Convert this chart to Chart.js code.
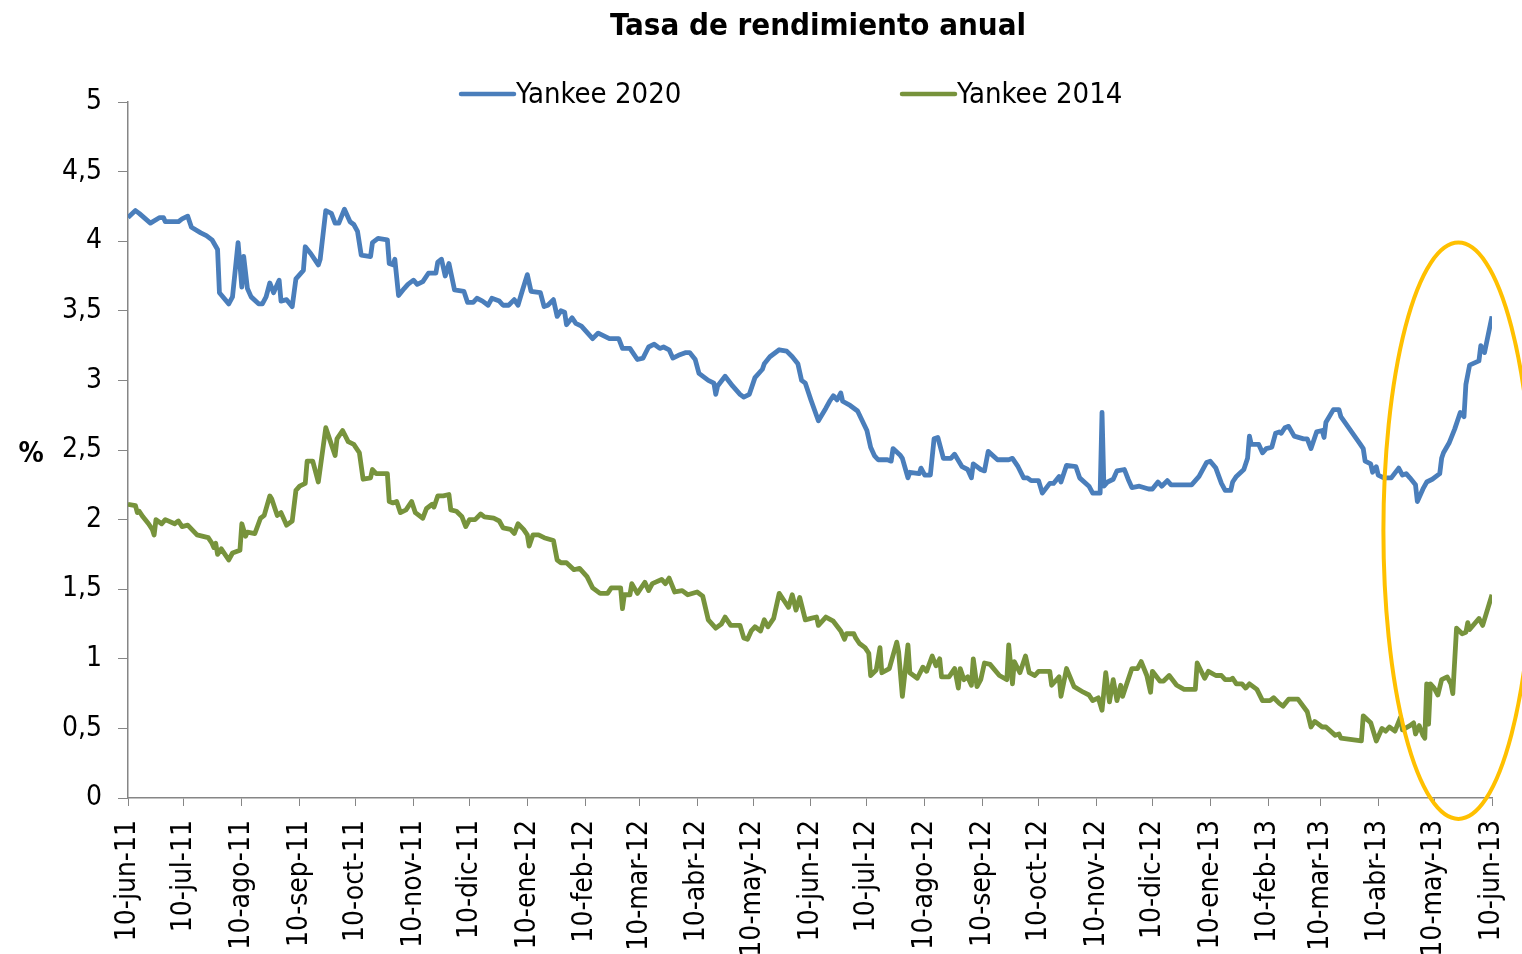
<!DOCTYPE html>
<html>
<head>
<meta charset="utf-8">
<script src="https://cdn.jsdelivr.net/npm/chart.js@4.4.1/dist/chart.umd.min.js"></script>
<style>
  html, body { margin: 0; padding: 0; background: #fff; }
  #wrap { width: 1522px; height: 954px; }
</style>
</head>
<body>
<div id="wrap"><canvas id="chart" width="1522" height="954"></canvas></div>
<script>
// eje x: dias desde 10-jun-11
const tickDays = [0, 30, 61, 92, 122, 153, 183, 214, 245, 274, 305, 335, 366, 396, 427, 458, 488, 519, 549, 580, 611, 639, 670, 700, 731];
const tickLabels = ['10-jun-11', '10-jul-11', '10-ago-11', '10-sep-11', '10-oct-11', '10-nov-11', '10-dic-11', '10-ene-12', '10-feb-12', '10-mar-12', '10-abr-12', '10-may-12', '10-jun-12', '10-jul-12', '10-ago-12', '10-sep-12', '10-oct-12', '10-nov-12', '10-dic-12', '10-ene-13', '10-feb-13', '10-mar-13', '10-abr-13', '10-may-13', '10-jun-13'];

const yankee2020Days = [0, 4, 6, 12, 17, 19, 20, 27, 29, 32, 34, 39, 42, 45, 48, 49, 54, 56, 59, 61, 62, 64, 66, 70, 72, 74, 76, 78, 81, 82, 85, 88, 90, 94, 95, 98, 102, 103, 106, 109, 111, 113, 116, 119, 121, 123, 125, 130, 131, 134, 139, 140, 142, 143, 145, 148, 150, 153, 155, 158, 161, 165, 166, 168, 170, 172, 175, 180, 182, 185, 187, 190, 193, 195, 199, 201, 204, 207, 209, 211, 214, 216, 221, 223, 225, 228, 230, 232, 234, 235, 238, 240, 243, 249, 252, 258, 263, 265, 269, 273, 276, 279, 282, 285, 287, 290, 292, 295, 299, 301, 304, 306, 311, 314, 315, 316, 320, 324, 328, 330, 333, 336, 340, 341, 344, 349, 353, 356, 359, 361, 363, 366, 370, 374, 376, 378, 380, 382, 383, 387, 391, 396, 398, 400, 402, 407, 409, 410, 414, 415, 418, 419, 424, 425, 427, 430, 432, 434, 437, 441, 443, 447, 450, 452, 453, 457, 459, 461, 466, 472, 474, 477, 480, 482, 484, 488, 490, 494, 496, 499, 500, 503, 508, 510, 515, 517, 521, 522, 523, 525, 528, 530, 534, 536, 538, 542, 547, 549, 552, 554, 557, 559, 570, 574, 578, 580, 583, 586, 588, 591, 592, 594, 598, 600, 601, 602, 606, 608, 610, 613, 615, 617, 618, 620, 622, 625, 630, 632, 634, 637, 640, 641, 642, 646, 649, 650, 660, 662, 663, 666, 667, 669, 670, 673, 677, 681, 683, 685, 687, 690, 691, 694, 696, 699, 703, 704, 705, 708, 711, 714, 716, 717, 719, 724, 725, 727, 731];
const yankee2020 = [4.17, 4.22, 4.20, 4.13, 4.17, 4.17, 4.14, 4.14, 4.16, 4.18, 4.10, 4.06, 4.04, 4.01, 3.94, 3.63, 3.55, 3.60, 3.99, 3.67, 3.89, 3.66, 3.60, 3.55, 3.55, 3.60, 3.70, 3.63, 3.72, 3.57, 3.58, 3.53, 3.73, 3.79, 3.96, 3.91, 3.83, 3.87, 4.22, 4.20, 4.13, 4.13, 4.23, 4.14, 4.12, 4.07, 3.90, 3.89, 3.99, 4.02, 4.01, 3.84, 3.83, 3.87, 3.61, 3.66, 3.69, 3.72, 3.69, 3.71, 3.77, 3.77, 3.85, 3.87, 3.75, 3.84, 3.65, 3.64, 3.56, 3.56, 3.59, 3.57, 3.54, 3.59, 3.57, 3.54, 3.54, 3.58, 3.54, 3.63, 3.76, 3.64, 3.63, 3.53, 3.54, 3.58, 3.46, 3.50, 3.49, 3.40, 3.45, 3.41, 3.39, 3.30, 3.34, 3.30, 3.30, 3.23, 3.23, 3.15, 3.16, 3.24, 3.26, 3.23, 3.24, 3.22, 3.16, 3.18, 3.20, 3.20, 3.15, 3.05, 3.00, 2.98, 2.90, 2.96, 3.03, 2.96, 2.90, 2.88, 2.90, 3.02, 3.08, 3.12, 3.17, 3.22, 3.21, 3.17, 3.12, 3.00, 2.98, 2.86, 2.71, 2.80, 2.85, 2.89, 2.86, 2.91, 2.85, 2.82, 2.78, 2.64, 2.52, 2.46, 2.43, 2.43, 2.42, 2.51, 2.46, 2.44, 2.30, 2.34, 2.33, 2.37, 2.32, 2.32, 2.58, 2.59, 2.44, 2.44, 2.47, 2.38, 2.36, 2.30, 2.40, 2.36, 2.35, 2.49, 2.43, 2.43, 2.44, 2.38, 2.30, 2.30, 2.28, 2.28, 2.19, 2.26, 2.26, 2.31, 2.27, 2.39, 2.38, 2.30, 2.24, 2.19, 2.19, 2.77, 2.24, 2.27, 2.29, 2.35, 2.36, 2.29, 2.23, 2.24, 2.22, 2.22, 2.27, 2.24, 2.28, 2.25, 2.25, 2.31, 2.41, 2.42, 2.37, 2.26, 2.21, 2.21, 2.27, 2.31, 2.36, 2.44, 2.60, 2.54, 2.54, 2.48, 2.51, 2.52, 2.62, 2.63, 2.62, 2.66, 2.67, 2.60, 2.58, 2.58, 2.51, 2.63, 2.64, 2.59, 2.70, 2.79, 2.79, 2.74, 2.55, 2.51, 2.42, 2.40, 2.34, 2.38, 2.32, 2.30, 2.30, 2.37, 2.32, 2.33, 2.30, 2.25, 2.13, 2.22, 2.27, 2.29, 2.33, 2.44, 2.48, 2.55, 2.65, 2.77, 2.74, 2.97, 3.11, 3.14, 3.25, 3.20, 3.46];

const yankee2014Days = [0, 4, 5, 6, 8, 11, 13, 14, 15, 18, 20, 25, 27, 29, 32, 37, 43, 45, 46, 47, 48, 50, 54, 56, 60, 61, 63, 64, 68, 71, 73, 76, 77, 80, 82, 85, 88, 90, 92, 95, 96, 99, 102, 106, 108, 111, 112, 115, 118, 121, 124, 126, 130, 131, 133, 139, 140, 142, 144, 146, 149, 152, 154, 158, 160, 163, 164, 166, 169, 172, 173, 176, 179, 181, 183, 186, 189, 191, 196, 199, 201, 205, 207, 209, 212, 214, 215, 217, 220, 223, 228, 230, 232, 235, 239, 242, 246, 249, 253, 257, 259, 264, 265, 266, 269, 270, 273, 277, 279, 281, 286, 288, 290, 293, 297, 300, 305, 308, 311, 315, 318, 320, 323, 328, 330, 332, 334, 336, 339, 341, 343, 346, 349, 352, 354, 356, 358, 360, 363, 366, 369, 370, 374, 378, 382, 384, 385, 389, 390, 392, 395, 397, 398, 401, 403, 404, 408, 412, 413, 415, 418, 419, 423, 426, 428, 431, 433, 435, 436, 440, 443, 445, 446, 448, 450, 452, 453, 455, 457, 459, 462, 467, 471, 472, 474, 475, 478, 481, 483, 486, 488, 494, 495, 499, 500, 503, 507, 512, 515, 517, 520, 522, 524, 526, 528, 530, 532, 533, 535, 538, 541, 543, 546, 548, 549, 553, 555, 558, 562, 566, 572, 573, 577, 579, 583, 586, 588, 591, 592, 594, 597, 599, 601, 605, 608, 612, 614, 617, 619, 622, 627, 632, 634, 636, 640, 642, 647, 649, 650, 661, 662, 666, 669, 672, 674, 676, 679, 682, 683, 687, 689, 690, 692, 694, 695, 696, 697, 698, 700, 702, 704, 707, 709, 710, 712, 715, 717, 718, 719, 724, 726, 731];
const yankee2014 = [2.11, 2.10, 2.05, 2.06, 2.02, 1.97, 1.93, 1.89, 2.00, 1.97, 2.00, 1.97, 1.99, 1.95, 1.96, 1.89, 1.87, 1.83, 1.80, 1.83, 1.75, 1.79, 1.71, 1.76, 1.78, 1.97, 1.88, 1.91, 1.90, 2.01, 2.03, 2.17, 2.15, 2.03, 2.05, 1.96, 1.99, 2.21, 2.24, 2.26, 2.42, 2.42, 2.27, 2.66, 2.58, 2.46, 2.58, 2.64, 2.56, 2.54, 2.48, 2.29, 2.30, 2.36, 2.33, 2.33, 2.13, 2.12, 2.13, 2.05, 2.07, 2.13, 2.05, 2.01, 2.08, 2.11, 2.09, 2.17, 2.17, 2.18, 2.07, 2.06, 2.02, 1.95, 2.00, 2.00, 2.04, 2.02, 2.01, 1.99, 1.94, 1.93, 1.90, 1.97, 1.93, 1.89, 1.81, 1.89, 1.89, 1.87, 1.85, 1.71, 1.69, 1.69, 1.64, 1.65, 1.59, 1.51, 1.47, 1.47, 1.51, 1.51, 1.36, 1.46, 1.46, 1.54, 1.47, 1.55, 1.49, 1.54, 1.57, 1.54, 1.58, 1.48, 1.49, 1.46, 1.48, 1.45, 1.28, 1.22, 1.25, 1.30, 1.24, 1.24, 1.15, 1.14, 1.20, 1.23, 1.20, 1.28, 1.23, 1.29, 1.47, 1.41, 1.37, 1.46, 1.35, 1.44, 1.28, 1.29, 1.30, 1.24, 1.30, 1.27, 1.20, 1.14, 1.18, 1.18, 1.15, 1.11, 1.08, 1.04, 0.88, 0.92, 1.08, 0.90, 0.93, 1.12, 1.05, 0.73, 1.10, 0.90, 0.86, 0.94, 0.91, 1.02, 0.95, 1.00, 0.87, 0.87, 0.93, 0.79, 0.93, 0.85, 0.87, 0.81, 1.00, 0.80, 0.85, 0.97, 0.96, 0.88, 0.85, 1.10, 0.82, 0.98, 0.90, 1.02, 0.90, 0.88, 0.91, 0.91, 0.81, 0.87, 0.73, 0.93, 0.80, 0.76, 0.74, 0.70, 0.72, 0.63, 0.90, 0.69, 0.85, 0.70, 0.81, 0.73, 0.81, 0.93, 0.93, 0.98, 0.88, 0.76, 0.91, 0.84, 0.84, 0.88, 0.81, 0.78, 0.78, 0.97, 0.86, 0.91, 0.88, 0.88, 0.85, 0.85, 0.86, 0.82, 0.82, 0.79, 0.82, 0.78, 0.70, 0.70, 0.72, 0.68, 0.66, 0.71, 0.71, 0.62, 0.51, 0.55, 0.51, 0.51, 0.45, 0.46, 0.43, 0.41, 0.59, 0.54, 0.41, 0.50, 0.48, 0.51, 0.48, 0.58, 0.49, 0.52, 0.54, 0.46, 0.52, 0.45, 0.43, 0.82, 0.53, 0.82, 0.79, 0.74, 0.85, 0.87, 0.82, 0.75, 1.22, 1.18, 1.19, 1.26, 1.21, 1.29, 1.24, 1.46];

// elipse amarilla (en unidades de los ejes)
const elipseCentro = { dia: 713, valor: 1.92 };
const elipseRadio = { dias: 40.2, valor: 2.07 };

const FONT = "'DejaVu Sans Condensed', 'DejaVu Sans', sans-serif";
const GRIS = '#868686';

function toPoints(days, values) {
    return days.map((d, i) => ({ x: d, y: values[i] }));
}

const decoraciones = {
    id: 'decoraciones',
    afterDraw(chart) {
        const ctx = chart.ctx;
        const xs = chart.scales.x, ys = chart.scales.y;
        ctx.save();

        // titulo
        ctx.fillStyle = '#000';
        ctx.font = 'bold 31px ' + FONT;
        ctx.textAlign = 'center';
        ctx.textBaseline = 'middle';
        ctx.fillText('Tasa de rendimiento anual', 818, 27);

        // etiqueta eje y
        ctx.font = 'bold 28px ' + FONT;
        ctx.fillText('%', 31, 455);

        // leyenda
        const items = [{ x: 459 }, { x: 900 }];
        ctx.font = '29px ' + FONT;
        ctx.textAlign = 'left';
        chart.data.datasets.forEach((ds, i) => {
            const x0 = items[i].x;
            ctx.strokeStyle = ds.borderColor;
            ctx.lineWidth = 4.5;
            ctx.lineCap = 'round';
            ctx.beginPath();
            ctx.moveTo(x0 + 2, 94);
            ctx.lineTo(x0 + 55, 94);
            ctx.stroke();
            ctx.fillStyle = '#000';
            ctx.fillText(ds.label, x0 + 57, 95);
        });

        // elipse
        const cx = xs.getPixelForValue(elipseCentro.dia);
        const cy = ys.getPixelForValue(elipseCentro.valor);
        const rx = xs.getPixelForValue(elipseCentro.dia + elipseRadio.dias) - cx;
        const ry = cy - ys.getPixelForValue(elipseCentro.valor + elipseRadio.valor);
        ctx.strokeStyle = '#FFC000';
        ctx.lineWidth = 4;
        ctx.beginPath();
        ctx.ellipse(cx, cy, rx, ry, 0, 0, Math.PI * 2);
        ctx.stroke();

        ctx.restore();
    }
};

Chart.defaults.font.family = FONT;
Chart.defaults.font.size = 28;
Chart.defaults.color = '#000';

new Chart(document.getElementById('chart'), {
    type: 'line',
    data: {
        datasets: [
            {
                label: 'Yankee 2020',
                data: toPoints(yankee2020Days, yankee2020),
                borderColor: '#4A7EBB',
                borderWidth: 4.8,
                pointRadius: 0,
                tension: 0,
                borderJoinStyle: 'round'
            },
            {
                label: 'Yankee 2014',
                data: toPoints(yankee2014Days, yankee2014),
                borderColor: '#77933C',
                borderWidth: 4.8,
                pointRadius: 0,
                tension: 0,
                borderJoinStyle: 'round'
            }
        ]
    },
    options: {
        responsive: false,
        animation: false,
        devicePixelRatio: 1,
        layout: { padding: { top: 102, right: 30, left: 0, bottom: 0 } },
        plugins: {
            legend: { display: false },
            title: { display: false },
            tooltip: { enabled: false }
        },
        scales: {
            x: {
                type: 'linear',
                min: 0,
                max: 731,
                afterBuildTicks: (scale) => {
                    scale.ticks = tickDays.map(v => ({ value: v }));
                },
                afterFit: (scale) => {
                    scale.height = 156;
                    scale.paddingLeft = 0;
                    scale.paddingRight = 0;
                },
                ticks: {
                    autoSkip: false,
                    minRotation: 90,
                    maxRotation: 90,
                    padding: 14,
                    callback: (value, index) => tickLabels[index]
                },
                grid: { drawOnChartArea: false, drawTicks: true, tickLength: 8, color: GRIS },
                border: { color: GRIS, width: 1.5 }
            },
            y: {
                min: 0,
                max: 5,
                afterFit: (scale) => {
                    scale.width = 128;
                    scale.paddingTop = 0;
                    scale.paddingBottom = 0;
                },
                ticks: {
                    stepSize: 0.5,
                    padding: 16,
                    callback: (value) => String(value).replace('.', ',')
                },
                grid: { drawOnChartArea: false, drawTicks: true, tickLength: 10, color: GRIS },
                border: { color: GRIS, width: 1.5 }
            }
        }
    },
    plugins: [decoraciones]
});
</script>
</body>
</html>
